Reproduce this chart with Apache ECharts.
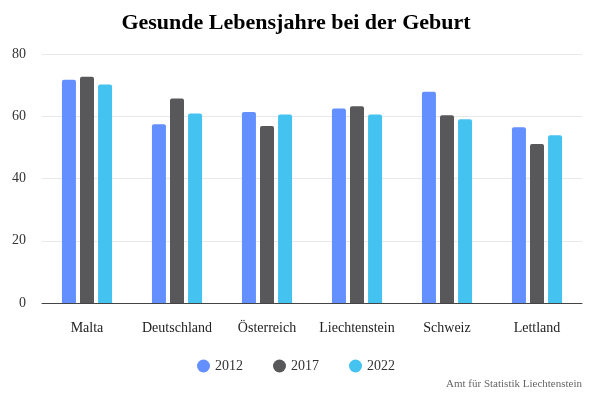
<!DOCTYPE html>
<html><head><meta charset="utf-8">
<script src="https://cdn.jsdelivr.net/npm/echarts@6/dist/echarts.min.js"></script>
<style>html,body{margin:0;padding:0;background:#fff}#c{width:592px;height:395px}</style>
</head><body><div id="c"></div>
<script>
const categories = ['Malta','Deutschland','Österreich','Liechtenstein','Schweiz','Lettland'];
const years = ['2012','2017','2022'];
const v2012 = [71.7, 57.4, 61.4, 62.5, 67.9, 56.5];
const v2017 = [72.7, 65.7, 56.9, 63.2, 60.3, 51.1];
const v2022 = [70.2, 60.9, 60.6, 60.6, 59.0, 53.9];
const yTicks = [0, 20, 40, 60, 80];
const colors = ['#638FFF', '#58585A', '#45C3F0'];
const F = 'Liberation Serif, Times New Roman, serif';
const chart = echarts.init(document.getElementById('c'), null, {renderer:'canvas'});
const mk = (name, data, i) => ({
  name, type:'bar', data, barWidth:14, barGap:'29%',
  itemStyle:{color:colors[i], borderRadius:[2,2,0,0]}
});
chart.setOption({
  animation:false,
  title:{text:'Gesunde Lebensjahre bei der Geburt', left:'center', top:7,
    textStyle:{fontFamily:F, fontSize:22, fontWeight:'bold', color:'#000'}},
  grid:{left:42, right:10, top:54, bottom:92, containLabel:false},
  legend:{data:years, bottom:17, left:'center', icon:'circle', itemWidth:13, itemHeight:13, itemGap:30,
    textStyle:{fontFamily:F, fontSize:14, color:'#333'}},
  graphic:[{type:'text', right:10, bottom:5, style:{text:'Amt für Statistik Liechtenstein', font:'11px Liberation Serif', fill:'#666'}}],
  xAxis:{type:'category', data:categories,
    axisLine:{lineStyle:{color:'#444', width:1}}, axisTick:{show:false},
    axisLabel:{fontFamily:F, fontSize:14, color:'#222', margin:18, interval:0}},
  yAxis:{type:'value', min:yTicks[0], max:yTicks[yTicks.length-1], interval:20,
    axisLabel:{fontFamily:F, fontSize:14, color:'#333', margin:16},
    splitLine:{lineStyle:{color:'#e8e8e8'}}},
  series:[mk(years[0], v2012, 0), mk(years[1], v2017, 1), mk(years[2], v2022, 2)]
});
</script></body></html>
